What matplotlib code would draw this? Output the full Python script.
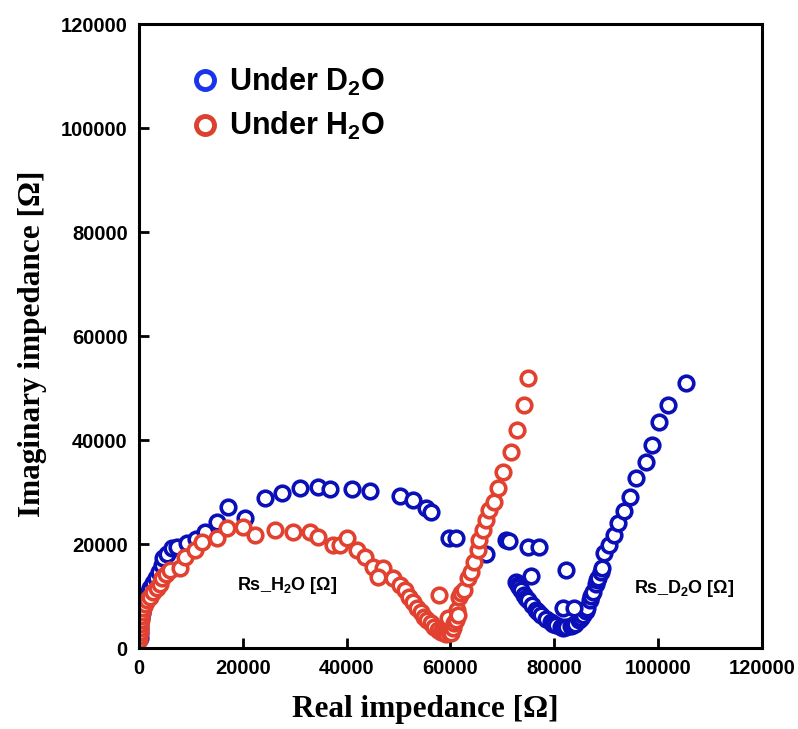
import matplotlib
matplotlib.use('Agg')
import matplotlib.pyplot as plt
from matplotlib.lines import Line2D

plt.rcParams['font.family'] = ['Liberation Sans', 'DejaVu Sans']
plt.rcParams['mathtext.fontset'] = 'custom'
plt.rcParams['mathtext.rm'] = 'Liberation Sans:bold'
plt.rcParams['mathtext.bf'] = 'Liberation Sans:bold'

# Nyquist data, under D2O (blue)
d2o_re = [300, 300, 190, 190, 390, 580, 770, 970, 1350, 1740, 2120, 2700, 3280, 3860,
          4440, 4630, 5400, 6370, 7330, 9260, 11000, 12740, 15050, 17180, 20460, 24320,
          27600, 31070, 34550, 36860, 41110, 44580, 50370, 52690, 55200, 56160, 59640,
          60990, 66780, 70640, 71220, 74880, 77010, 75460, 82220, 72570,
          72950, 73150, 73530, 74110, 74500, 74880, 75660, 76430, 76810, 77390, 78360,
          79320, 79710, 80290, 81250, 81640, 82220, 83180, 83570, 83960, 84730, 85110,
          85500, 86080, 86270, 86850, 87040, 87430, 88010, 88200, 88390, 88970, 89170,
          81640, 83760,
          89550, 90520, 91480, 92250, 93410, 94570, 95730, 97660, 98820, 100170, 101900,
          105380]
d2o_im = [1900, 2900, 3840, 4800, 5760, 6720, 7680, 8640, 9600, 10560, 11520, 12480,
          13440, 14590, 15940, 17280, 18050, 19200, 19390, 20160, 20930, 22270, 24190,
          27070, 24960, 28800, 29760, 30720, 30910, 30530, 30530, 30140, 29180, 28420,
          26880, 26110, 21120, 21120, 18050, 20740, 20540, 19390, 19390, 13820, 14980,
          12670,
          12100, 11710, 11140, 10180, 9600, 9220, 8260, 7300, 6910, 6340, 5570, 4990,
          4610, 4420, 4030, 3840, 4030, 4220, 4420, 4610, 5380, 5760, 6340, 7100, 7680,
          9220, 9980, 10750, 12290, 13060, 13440, 14590, 15360,
          7680, 7680,
          18240, 19780, 21700, 24000, 26300, 28990, 32640, 35710, 38980, 43390, 46660,
          50880]

# under H2O (red)
h2o_re = [100, 100, 200, 200, 300, 400, 500, 600, 800, 1160, 1540, 2120, 2700, 3470,
          4050, 4440, 5210, 5980, 7910, 8880, 10810, 12160, 15050, 16980, 20070, 22390,
          26250, 29720, 33000, 34550, 37440, 38790, 40140, 42070, 43620, 45160, 47090,
          46130, 49020, 50370, 51340, 51920, 52690, 53650, 54230, 54810, 55390, 56160,
          56740, 57510, 58090, 58670, 59060, 59640, 60020, 59440, 60410, 60600, 60990,
          61180, 61370, 61570, 61950, 62530, 63300, 63880, 64460, 65230, 65430, 66200,
          66780, 67360, 68320, 69090, 70060, 71600, 72760, 74110, 74880, 57710]
h2o_im = [1540, 2300, 3070, 3840, 4610, 5380, 6140, 6910, 7680, 8450, 9220, 9790, 10750,
          11520, 12290, 13440, 14210, 14980, 15360, 17470, 18820, 20350, 21120, 23040,
          23230, 21700, 22660, 22270, 22270, 21310, 19780, 19780, 21120, 18820, 17470,
          15550, 15360, 13630, 13440, 12100, 11140, 9790, 8830, 7680, 6910, 5950, 5380,
          4800, 4030, 3460, 3070, 2880, 2690, 3070, 2880, 5760, 3840, 4800, 5380, 7300,
          6340, 9790, 10560, 11140, 13440, 14590, 16510, 18820, 20740, 22660, 24580,
          26500, 28030, 30720, 33790, 37630, 41860, 46660, 52030, 10180]

ticks = [0, 20000, 40000, 60000, 80000, 100000, 120000]

fig = plt.figure(figsize=(7.98, 7.29), dpi=100)
ax = fig.add_axes([0.174, 0.111, 0.781, 0.856])

mk = dict(linestyle='none', marker='o', markersize=10.5, markerfacecolor='white',
          markeredgewidth=2.6)
ax.plot(d2o_re, d2o_im, markeredgecolor='#0a0fb8', **mk)
ax.plot(h2o_re, h2o_im, markeredgecolor='#e2412f', **mk)

ax.set_xlim(0, 120000)
ax.set_ylim(0, 120000)
ax.set_xticks(ticks)
ax.set_yticks(ticks)
ax.set_xticklabels([str(t) for t in ticks])
ax.set_yticklabels([str(t) for t in ticks])
ax.tick_params(direction='in', length=7, width=2, labelsize=14.5, pad=8)
for lab in ax.get_xticklabels() + ax.get_yticklabels():
    lab.set_fontweight('bold')
for s in ax.spines.values():
    s.set_linewidth(2.2)

ax.set_xlabel('Real impedance [Ω]', family='Liberation Serif', fontweight='bold',
              fontsize=22.5, labelpad=12)
ax.set_ylabel('Imaginary impedance [Ω]', family='Liberation Serif', fontweight='bold',
              fontsize=22.5, labelpad=10)
ax.xaxis.label.set_x(0.459)
ax.yaxis.label.set_y(0.487)

ax.text(28500, 12100, r'Rs_H$_2$O [Ω]', ha='center', va='center', fontsize=13,
        fontweight='bold')
ax.text(105000, 11500, r'Rs_D$_2$O [Ω]', ha='center', va='center', fontsize=13,
        fontweight='bold')

handles = [
    Line2D([], [], linestyle='none', marker='o', markersize=13, markerfacecolor='white',
           markeredgewidth=3.5, markeredgecolor='#1a34ee', label=r'Under D$_2$O'),
    Line2D([], [], linestyle='none', marker='o', markersize=13, markerfacecolor='white',
           markeredgewidth=3.5, markeredgecolor='#dc4030', label=r'Under H$_2$O'),
]
ax.legend(handles=handles, loc='upper left', bbox_to_anchor=(0.037, 0.977), frameon=False,
          handlelength=1.0, handletextpad=0.3, labelspacing=0.4,
          prop={'size': 22, 'weight': 'bold'})

fig.savefig('out.png', dpi=100)
